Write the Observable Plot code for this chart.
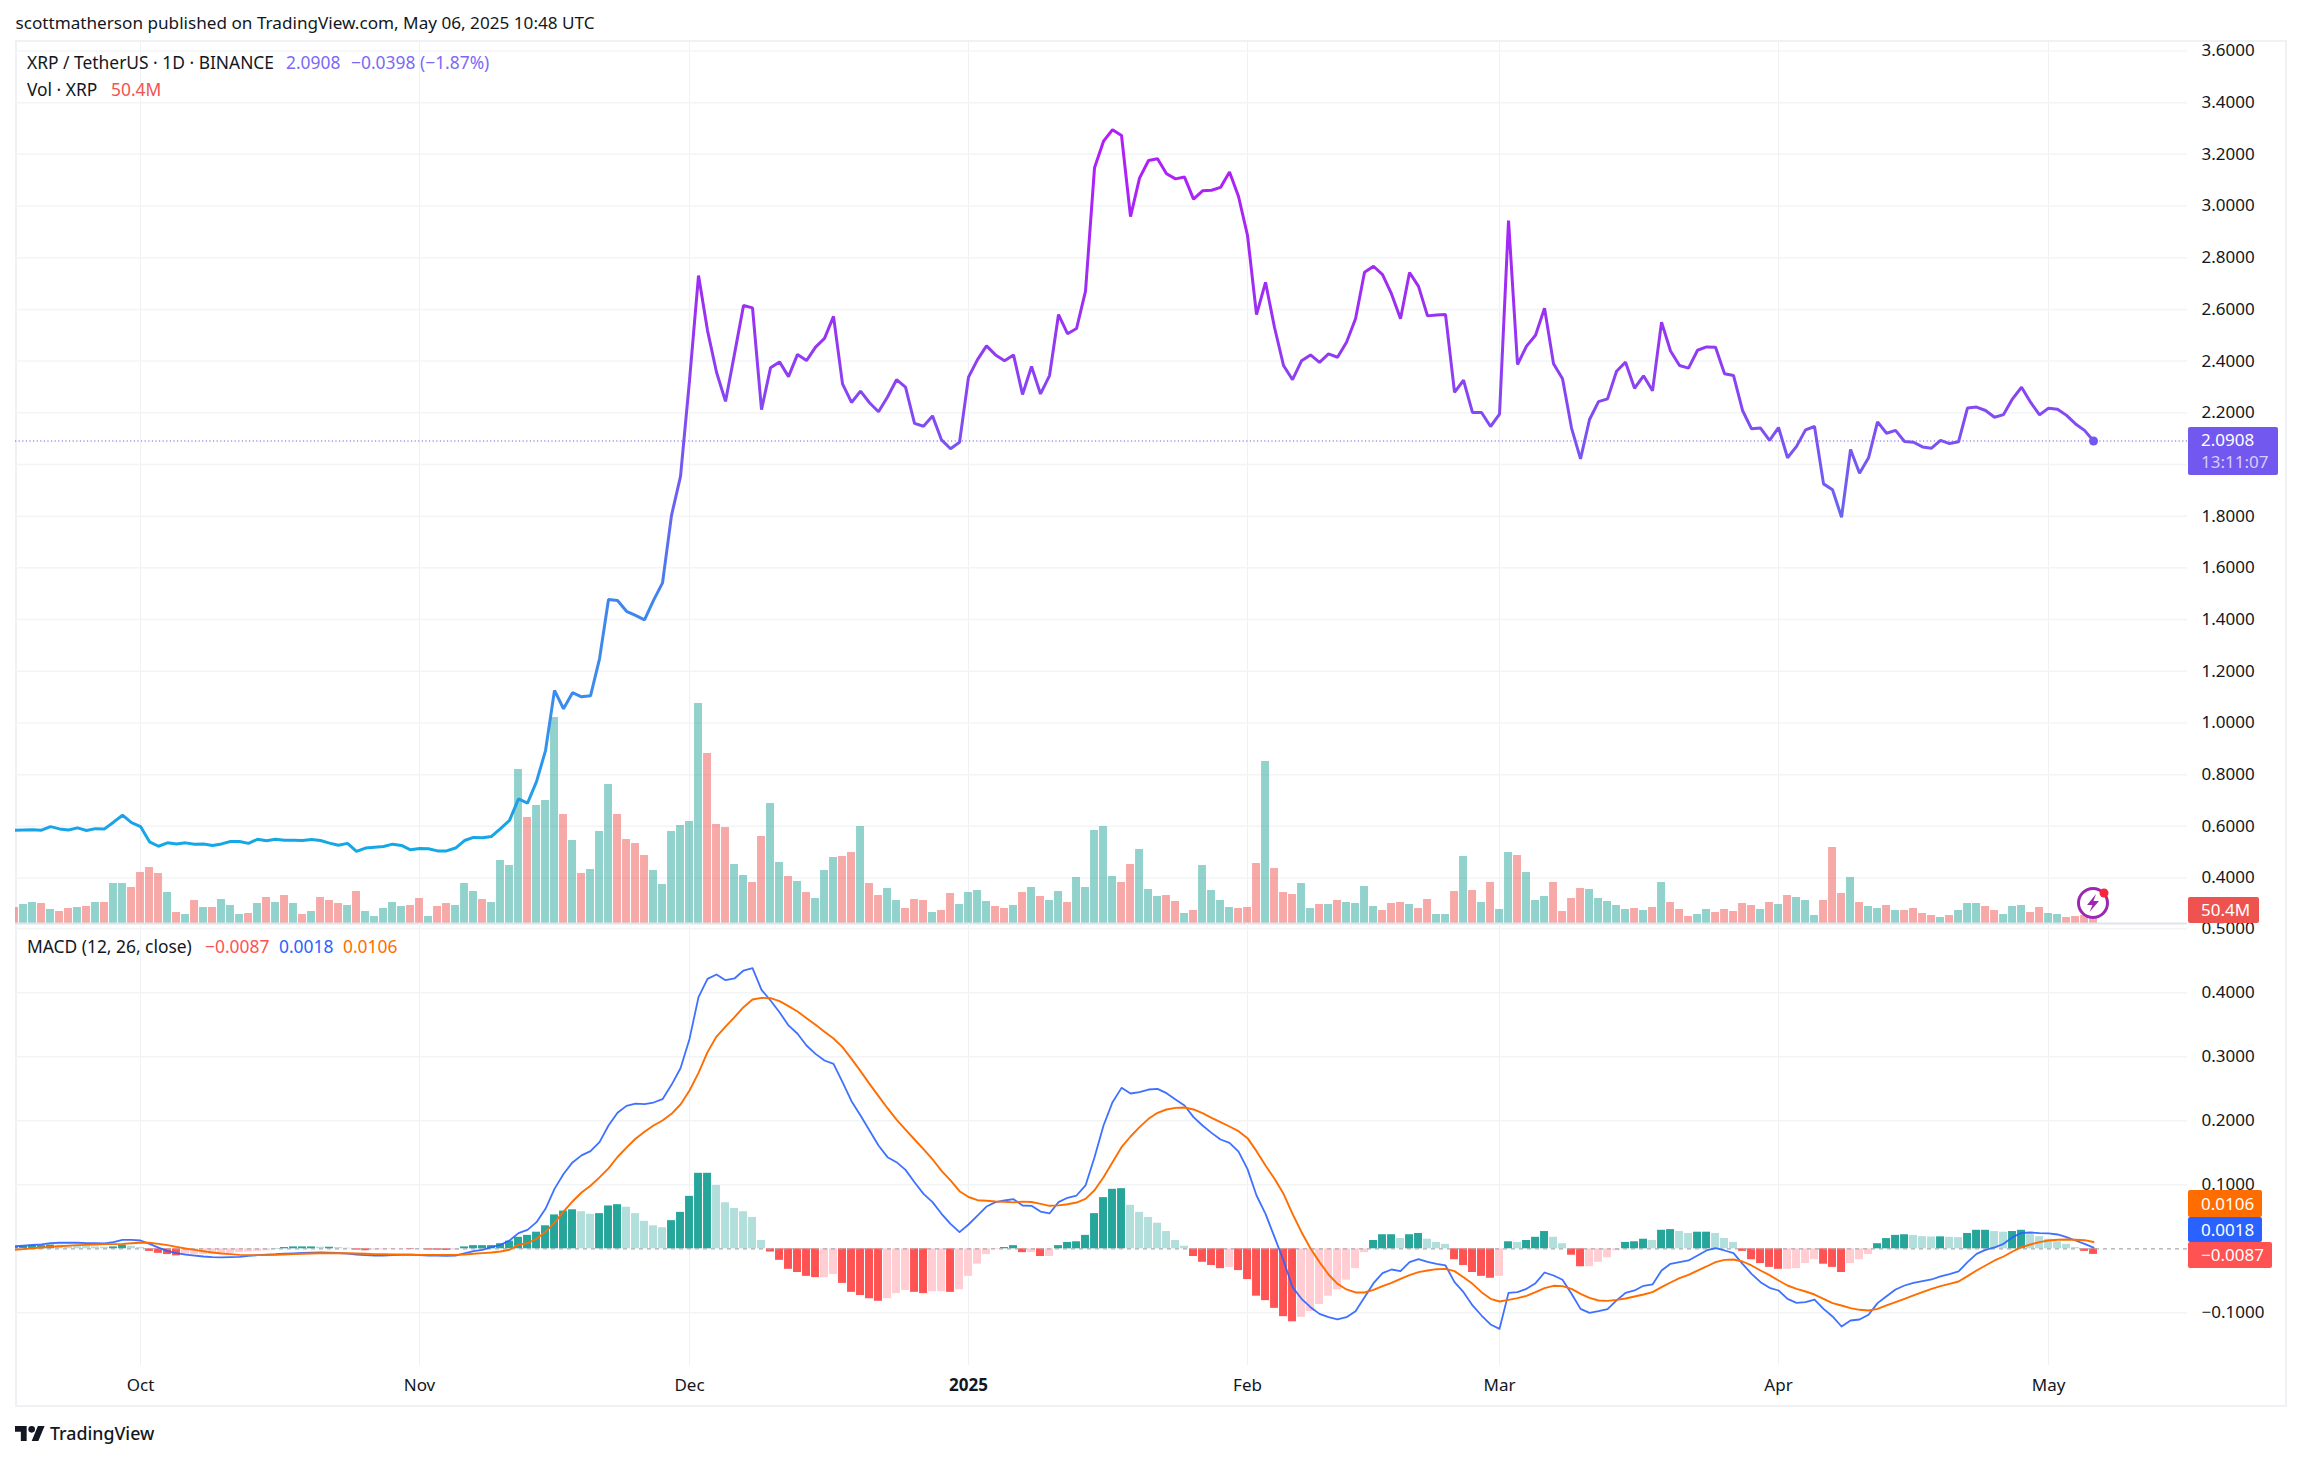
<!DOCTYPE html>
<html>
<head>
<meta charset="utf-8">
<script src="https://cdn.jsdelivr.net/npm/d3@7"></script>
<script src="https://cdn.jsdelivr.net/npm/@observablehq/plot@0.6"></script>
<style>
html,body{margin:0;padding:0;background:#fff;overflow:hidden}
#page{position:relative;width:2301px;height:1460px;font-family:"Noto Sans",sans-serif;color:#131722}
#page svg.pane{position:absolute;left:0}
.t{position:absolute;white-space:nowrap;transform:translateY(-50%);line-height:1}
.badge{position:absolute;box-sizing:border-box;color:#fff;font-size:17px;padding-left:13px;display:flex;flex-direction:column;justify-content:center;line-height:22px;border-radius:2px}
#frame{position:absolute;left:15px;top:40px;width:2272px;height:1367px;box-sizing:border-box;border:2px solid #f0f1f4}
</style>
</head>
<body>
<div id="page"><div id="frame"></div></div>
<script>
const firstDay = Date.UTC(2024, 8, 17), DAY = 864e5;
// daily close, XRP/USDT, 17 Sep 2024 to 6 May 2025
const closes = [
.585,.586,.587,.585,.599,.590,.586,.594,.584,.591,
.590,.616,.643,.614,.599,.540,.523,.536,.532,.536,
.531,.532,.526,.532,.541,.541,.534,.550,.544,.550,
.546,.546,.545,.549,.545,.535,.527,.534,.503,.516,
.519,.522,.531,.526,.509,.514,.513,.505,.505,.516,
.545,.557,.556,.561,.591,.623,.706,.690,.773,.893,
1.126,1.055,1.117,1.101,1.105,1.248,1.478,1.474,1.432,1.416,
1.399,1.474,1.542,1.803,1.954,2.325,2.731,2.518,2.357,2.244,
2.428,2.615,2.606,2.212,2.374,2.397,2.340,2.426,2.402,2.454,
2.488,2.573,2.312,2.240,2.284,2.239,2.204,2.261,2.328,2.299,
2.159,2.148,2.188,2.095,2.061,2.086,2.338,2.406,2.459,2.424,
2.401,2.424,2.271,2.379,2.273,2.344,2.580,2.506,2.526,2.671,
3.148,3.251,3.295,3.273,2.959,3.108,3.176,3.183,3.125,3.105,
3.112,3.027,3.059,3.061,3.072,3.132,3.037,2.886,2.580,2.705,
2.530,2.383,2.328,2.401,2.424,2.395,2.428,2.415,2.473,2.564,
2.744,2.767,2.735,2.660,2.564,2.743,2.689,2.575,2.578,2.580,
2.279,2.326,2.201,2.201,2.147,2.195,2.944,2.387,2.458,2.500,
2.605,2.390,2.332,2.141,2.022,2.174,2.243,2.254,2.361,2.396,
2.295,2.343,2.285,2.551,2.439,2.383,2.373,2.442,2.455,2.454,
2.351,2.344,2.209,2.138,2.141,2.093,2.143,2.026,2.070,2.134,
2.147,1.925,1.902,1.796,2.058,1.966,2.026,2.165,2.121,2.132,
2.089,2.086,2.068,2.063,2.093,2.081,2.088,2.219,2.222,2.209,
2.183,2.193,2.254,2.299,2.241,2.192,2.218,2.214,2.190,2.157,
2.132,2.0908];
// volume, in units of about 12.6M XRP (last bar 50.4M = 4)
const volumes = [
16,19,21,20,14,12,15,16,17,21,
21,40,40,36,51,56,50,31,11,9,
23,16,16,24,18,9,10,20,26,21,
28,20,9,12,26,23,20,18,32,12,
7,15,21,17,18,25,7,17,20,18,
40,32,24,21,63,58,154,106,118,123,
206,109,83,50,54,92,139,109,84,80,
68,53,39,92,98,102,220,170,99,96,
59,48,41,87,120,61,47,42,31,25,
53,66,67,71,97,40,28,35,23,15,
24,23,11,13,30,19,31,33,22,17,
15,18,31,36,27,23,32,21,46,36,
93,97,47,41,59,74,34,27,28,22,
10,13,58,33,23,16,15,16,60,162,
55,31,29,40,15,19,19,23,21,20,
37,17,13,20,21,19,15,24,9,9,
32,67,33,21,41,14,71,68,51,23,
27,41,12,25,35,34,25,22,18,14,
15,13,16,41,21,14,7,9,14,11,
14,12,20,18,14,21,19,28,26,23,
8,23,76,30,46,21,17,15,18,13,
13,15,10,8,6,8,13,20,20,17,
13,9,17,18,11,16,10,9,6,7,
8,4];
const volumeSides =
"rggrgrrgrg"+"rggrrrrgrg"+"rgrgggrgrg"+"rgrgrrrgrg"+"ggggrrgrrg"+"ggrggggrgg"+
"grgrgggrrr"+"rggggggrrr"+"ggrrggrgrg"+"ggrrgrrggr"+"rrgrrggggr"+"rgrgrggrgg"+
"gggrrgggrr"+"grggggrrrg"+"rrrggrgrgg"+"ggrrrgrrgg"+"rgrgrggrgg"+"grrrrggggg"+
"rgrgrrrggr"+"rrrrgrgrgg"+"grrrgrggrg"+"rrrrgrgggr"+"rgggrrggrr"+"rr";
const macdLine = [
.004,.005,.006,.007,.009,.0095,.0095,.0095,.009,.009,
.0085,.0104,.014,.014,.013,.0078,.002,-.0037,-.0068,-.009,
-.0105,-.012,-.013,-.0135,-.013,-.0125,-.011,-.01,-.009,-.0085,
-.0075,-.007,-.0065,-.006,-.0055,-.006,-.0065,-.0075,-.009,-.01,
-.0105,-.0105,-.01,-.0095,-.0095,-.01,-.0105,-.0105,-.011,-.0105,
-.007,-.0037,-.0016,.0025,.0062,.013,.0245,.0297,.0417,.0625,
.0937,.117,.135,.146,.1526,.1667,.1927,.2125,.2234,.227,
.226,.2286,.2338,.2562,.2822,.328,.3932,.4218,.4286,.4197,
.4224,.4348,.4385,.4046,.388,.3697,.349,.336,.3177,.3046,
.2942,.289,.2604,.2307,.2083,.1848,.1614,.1432,.1354,.1234,
.1041,.0859,.0729,.0547,.039,.026,.038,.052,.0661,.0729,
.0755,.0776,.0677,.0672,.0583,.0552,.0729,.0797,.0833,.099,
.143,.1927,.2291,.2515,.2427,.2447,.2489,.25,.2432,.2333,
.2239,.2057,.1927,.1812,.1708,.1656,.152,.1245,.0833,.0547,
.0182,-.0182,-.0599,-.0781,-.0912,-.1016,-.1068,-.1104,-.1068,-.0974,
-.0755,-.0537,-.038,-.0323,-.0349,-.0208,-.0162,-.0203,-.0235,-.026,
-.0521,-.0677,-.0885,-.1042,-.1182,-.125,-.0688,-.0677,-.0625,-.0537,
-.037,-.0417,-.0484,-.0703,-.0938,-.1,-.0974,-.0943,-.0807,-.0688,
-.0651,-.0578,-.0557,-.0339,-.0234,-.0208,-.0182,-.0104,-.0026,.001,
-.0026,-.0068,-.0234,-.039,-.0521,-.0609,-.0651,-.0781,-.0844,-.0833,
-.0792,-.0938,-.1057,-.1214,-.112,-.1104,-.1031,-.0849,-.074,-.0635,
-.0573,-.0531,-.0505,-.0479,-.0432,-.0396,-.0354,-.0208,-.0078,-.0016,
.0021,.0078,.0182,.025,.0255,.0245,.024,.0224,.0182,.013,
.0078,.0018];
const signalLine = [
-.0016,-.0005,.001,.002,.003,.004,.005,.0057,.0062,.0068,
.0073,.0073,.0078,.0088,.0094,.0094,.0078,.0057,.003,.0005,
-.0016,-.0037,-.0057,-.0073,-.0083,-.0094,-.0099,-.0099,-.0099,-.0094,
-.0089,-.0083,-.0078,-.0073,-.0068,-.0068,-.0068,-.0068,-.0073,-.0078,
-.0083,-.0083,-.0089,-.0089,-.0089,-.0094,-.0094,-.0094,-.0094,-.0094,
-.0089,-.0078,-.0068,-.0057,-.0042,-.0015,.0065,.0087,.0157,.0265,
.0407,.058,.074,.088,.0986,.1117,.1257,.1435,.158,.172,
.183,.1927,.2005,.2109,.2255,.2474,.2749,.3073,.3317,.3473,
.3619,.3776,.3895,.3921,.3916,.3869,.3791,.3708,.3604,.35,
.339,.3286,.3151,.2968,.2776,.2578,.2385,.2197,.202,.1864,
.1708,.1559,.1399,.1217,.107,.09,.081,.076,.0751,.0739,
.0735,.0726,.0737,.0732,.0703,.0672,.0679,.0697,.0723,.078,
.0915,.1119,.1354,.1588,.1755,.1901,.2031,.2125,.2177,.2203,
.2208,.2177,.212,.2047,.1979,.1911,.1838,.1729,.1526,.1302,
.1094,.0859,.0547,.026,.0005,-.0208,-.0401,-.0547,-.0635,-.0682,
-.0682,-.0641,-.0583,-.0531,-.0469,-.0412,-.0365,-.0339,-.0318,-.0313,
-.0349,-.0443,-.0547,-.0677,-.0781,-.0823,-.0797,-.0771,-.0734,-.0677,
-.0615,-.0578,-.0583,-.0625,-.0703,-.0766,-.0807,-.0813,-.0797,-.0776,
-.0745,-.0714,-.0677,-.0599,-.0526,-.0458,-.0406,-.0339,-.0276,-.0208,
-.0172,-.0167,-.0198,-.026,-.0339,-.0412,-.0495,-.0573,-.0625,-.0667,
-.0714,-.0781,-.0849,-.0885,-.0927,-.0953,-.0964,-.0938,-.0885,-.0833,
-.0781,-.0729,-.0677,-.0625,-.0583,-.0547,-.051,-.0427,-.0339,-.026,
-.0182,-.012,-.0042,.0026,.0068,.0104,.013,.0141,.0146,.0141,
.0135,.0106];
const histogram = [
.003,.004,.005,.005,.006,.0055,.005,.0045,.004,.003,
.0025,.003,.006,.004,.002,-.004,-.007,-.009,-.011,-.010,
-.0095,-.009,-.0085,-.008,-.007,-.006,-.005,-.004,-.003,.0005,
.002,.003,.003,.003,.0025,.0025,.002,.001,-.002,-.003,
-.002,-.0015,-.001,-.0005,-.001,-.0005,-.002,-.0022,-.0025,-.002,
.003,.005,.005,.005,.008,.012,.018,.021,.026,.036,
.053,.059,.061,.058,.054,.055,.067,.069,.065,.055,
.043,.036,.033,.044,.057,.082,.118,.118,.099,.072,
.063,.058,.049,.013,-.005,-.018,-.032,-.037,-.043,-.045,
-.045,-.040,-.054,-.068,-.073,-.078,-.082,-.078,-.070,-.065,
-.068,-.070,-.067,-.067,-.068,-.064,-.043,-.024,-.009,-.001,
.002,.005,-.006,-.006,-.012,-.012,.005,.010,.011,.021,
.055,.080,.093,.094,.068,.057,.049,.040,.027,.013,
.004,-.012,-.021,-.026,-.031,-.029,-.034,-.048,-.074,-.081,
-.093,-.106,-.114,-.107,-.098,-.087,-.074,-.064,-.049,-.031,
-.006,.013,.022,.022,.016,.022,.024,.015,.010,.007,
-.017,-.026,-.037,-.043,-.046,-.043,.011,.010,.013,.018,
.027,.018,.008,-.010,-.028,-.028,-.021,-.014,-.003,.010,
.011,.015,.013,.029,.030,.027,.024,.026,.026,.024,
.016,.010,-.004,-.017,-.023,-.029,-.032,-.032,-.031,-.023,
-.017,-.024,-.029,-.037,-.023,-.017,-.009,.008,.016,.021,
.022,.021,.019,.0185,.0187,.018,.0175,.024,.029,.029,
.027,.026,.027,.029,.022,.019,.015,.011,.007,.002,
-.004,-.0087];
const priceTicks = [.4,.6,.8,1,1.2,1.4,1.6,1.8,2,2.2,2.4,2.6,2.8,3,3.2,3.4,3.6];
const priceLabelTicks = priceTicks.filter(t => t !== 2); // 2.0000 sits under the last-price tag
const macdGridTicks = [-.1,.1,.2,.3,.4,.5];
const monthTicks = [[2024,9],[2024,10],[2024,11],[2025,1],[2025,2],[2025,3],[2025,4]].map(([y,m]) => new Date(Date.UTC(y,m,1)));
const monthLabels = ["Oct","Nov","Dec","Feb","Mar","Apr","May"];
const yearTick = [new Date(Date.UTC(2025,0,1))];
const lastClose = 2.0908;
const priceStops = [[0,"#b41cfa"],[.25,"#9b30f2"],[.42,"#7f4ff2"],[.52,"#6b62f2"],[.66,"#3f86ee"],[.82,"#3a8dee"],[1,"#12a9e6"]];

const rows = closes.map((close,i) => ({
  date: new Date(firstDay + i*DAY), close, vol: volumes[i], side: volumeSides[i],
  macd: macdLine[i], signal: signalLine[i], hist: histogram[i], prev: i ? histogram[i-1] : 0
}));
const left = d => new Date(+d.date - .44*DAY), right = d => new Date(+d.date + .44*DAY);
const xDomain = [new Date(firstDay + .111*DAY), new Date(firstDay + 241.44*DAY)];
const base = {width:2301, marginLeft:15, marginRight:114, color:{type:"identity"},
  style:{background:"transparent",overflow:"visible",fontFamily:'"Noto Sans",sans-serif'}};
const axisFont = {fontSize:17, fill:"#131722", tickSize:0};
const grid = "#f3f4f6", vgrid = "#f0f1f4";

const priceDomain = [.2240, 3.6405], priceH = 883;
const volStep = (priceDomain[1]-priceDomain[0])/priceH;

const gradient = () => {
  const defs = d3.create("svg:defs");
  const g = defs.append("linearGradient").attr("id","priceGrad").attr("x1",0).attr("x2",0).attr("y1",0).attr("y2",1);
  priceStops.forEach(([o,c]) => g.append("stop").attr("offset",o).attr("stop-color",c));
  return defs.node();
};

const pricePlot = Plot.plot({...base, height:priceH, marginTop:0, marginBottom:0,
  x:{domain:xDomain,axis:null},
  y:{domain:priceDomain},
  marks:[
    gradient,
    Plot.ruleX(monthTicks.concat(yearTick),{stroke:vgrid,strokeWidth:1}),
    Plot.ruleY(priceTicks,{stroke:grid,strokeWidth:1.5}),
    Plot.rect(rows,{x1:left,x2:right,y1:priceDomain[0],y2:d=>priceDomain[0]+d.vol*volStep,
      fill:d=>d.side==="g"?"#26a69a":"#ef5350",fillOpacity:.5,clip:true}),
    Plot.ruleY(priceDomain.slice(0,1),{stroke:"#e0e3eb",strokeWidth:2}),
    Plot.ruleY([lastClose],{stroke:"#7358ef",strokeWidth:1.2,strokeDasharray:"1.2,2.4"}),
    Plot.line(rows,{x:"date",y:"close",stroke:"url(#priceGrad)",strokeWidth:3,clip:true,strokeLinejoin:"miter"}),
    Plot.dot(rows.slice(-1),{x:"date",y:"close",r:4.5,fill:"#7358ef"}),
    Plot.axisY(priceLabelTicks,{anchor:"right",...axisFont,tickPadding:14,textAnchor:"start",label:null,tickFormat:d=>d.toFixed(4)})
  ]});
pricePlot.classList.add("pane");
pricePlot.style.top = "40px";

const macdTop = 913, macdMarginTop = 10, macdH = 494;
const macdPlot = Plot.plot({...base, height:macdH, marginTop:macdMarginTop, marginBottom:42,
  x:{domain:xDomain},
  y:{domain:[-.1823,.5083]},
  marks:[
    Plot.ruleX(monthTicks.concat(yearTick),{stroke:vgrid,strokeWidth:1}),
    Plot.ruleY(macdGridTicks,{stroke:grid,strokeWidth:1.5}),
    Plot.rect(rows,{x1:left,x2:right,y1:0,y2:"hist",clip:true,
      fill:d=>d.hist>=0?(d.hist>=d.prev?"#26a69a":"#b2dfdb"):(d.hist<d.prev?"#ff5252":"#ffcdd2")}),
    Plot.ruleY([0],{stroke:"#a9abb3",strokeWidth:1.3,strokeDasharray:"4,4"}),
    Plot.line(rows,{x:"date",y:"macd",stroke:"#2962ff",strokeOpacity:.9,strokeWidth:1.8,clip:true}),
    Plot.line(rows,{x:"date",y:"signal",stroke:"#ff6d00",strokeWidth:1.9,clip:true}),
    Plot.axisY(macdGridTicks,{anchor:"right",...axisFont,tickPadding:14,textAnchor:"start",label:null,
      tickFormat:d=>d.toFixed(4).replace("-","\u2212")}),
    Plot.axisX(monthTicks,{anchor:"bottom",...axisFont,tickPadding:13,label:null,
      tickFormat:d=>monthLabels[monthTicks.findIndex(m=>+m===+d)]}),
    Plot.axisX(yearTick,{anchor:"bottom",...axisFont,tickPadding:13,label:null,fontWeight:"bold",tickFormat:d=>d3.utcFormat("%Y")(d)})
  ]});
macdPlot.classList.add("pane");
macdPlot.style.top = macdTop + "px";

const page = document.getElementById("page");
page.append(pricePlot, macdPlot);

function label(text,x,cy,color="#131722",size=17.4,extra=""){
  const s=document.createElement("span");s.className="t";s.textContent=text;
  s.style.cssText=`left:${x}px;top:${cy}px;color:${color};font-size:${size}px;${extra}`;page.append(s);
}
function badge(lines,top,h,w,bg){
  const d=document.createElement("div");d.className="badge";
  d.style.cssText=`left:2188px;top:${top}px;height:${h}px;width:${w}px;background:${bg}`;
  lines.forEach(([t,c])=>{const e=document.createElement("div");e.textContent=t;if(c)e.style.color=c;d.append(e)});page.append(d);
}
label("scottmatherson published on TradingView.com, May 06, 2025 10:48 UTC",15.5,23,"#131722",17.15);
label("XRP / TetherUS \u00b7 1D \u00b7 BINANCE",27,63);
label("2.0908",286,63,"#7a6af7");
label("\u22120.0398",351,63,"#7a6af7");
label("(\u22121.87%)",420,63,"#7a6af7");
label("Vol \u00b7 XRP",27,90);
label("50.4M",111,90,"#ef5350");
label("MACD (12, 26, close)",27,947);
label("\u22120.0087",205,947,"#ff5252");
label("0.0018",279,947,"#2962ff");
label("0.0106",343,947,"#ff6d00");
badge([["2.0908"],["13:11:07","#d6cdfb"]],427,48,90,"#7358ef");
badge([["50.4M"]],897,26,71,"#ef5350");
badge([["0.0106"]],1190,27,74,"#ff6d00");
badge([["0.0018"]],1217,25,74,"#2962ff");
badge([["\u22120.0087"]],1242,26,84,"#ff5252");

const icon=document.createElement("div");
icon.style.cssText="position:absolute;left:2075px;top:885px;width:36px;height:36px";
icon.innerHTML='<svg width="36" height="36" viewBox="0 0 36 36"><circle cx="18" cy="18" r="14.5" fill="#fff" fill-opacity=".85" stroke="#9c27b0" stroke-width="3"/><path d="M21 9 L12 20 H17.5 L14.5 27 L24 16 H18.5 Z" fill="#9c27b0"/><circle cx="29" cy="8" r="4.5" fill="#f7253b"/></svg>';
page.append(icon);
const logo=document.createElement("div");
logo.style.cssText="position:absolute;left:15px;top:1425px;width:30px;height:17px";
logo.innerHTML='<svg width="30" height="17" viewBox="0 4 36 18"><path d="M14 22H7V11H0V4h14v18zM28 22h-8l7.5-18h8L28 22z" fill="#131722"/><circle cx="20" cy="8" r="4" fill="#131722"/></svg>';
page.append(logo);
label("TradingView",50,1434,"#131722",17.8,"font-weight:500;");
</script>
</body>
</html>
